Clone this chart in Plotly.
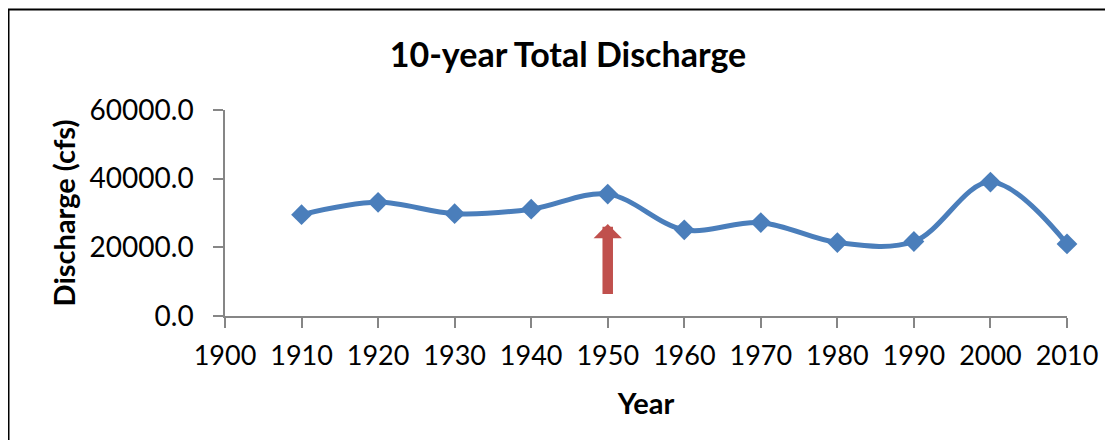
import plotly.graph_objects as go

years = [1910, 1920, 1930, 1940, 1950, 1960, 1970, 1980, 1990, 2000, 2010]
discharge = [29500, 33100, 29800, 31100, 35500, 25100, 27200, 21400, 21700, 39000, 21000]
x_ticks = list(range(1900, 2011, 10))
y_ticks = [0, 20000, 40000, 60000]
y_tick_labels = ["0.0", "20000.0", "40000.0", "60000.0"]
arrow_year = 1950
arrow_from, arrow_to = 6000, 26800

# page body has an 8px margin; figure coordinates are offset by it
OFF = 8
W, H = 1113 - OFF, 448 - 2 * OFF
ML, MT = 225 - OFF, 110 - OFF
MR = W - (1067 - OFF)
MB = H - (316 - OFF)
pw, ph = W - ML - MR, H - MT - MB

FONT = "Lato, Carlito, Calibri, sans-serif"
BLUE = "#4A7EBB"
AXIS = "#868686"

fig = go.Figure()
fig.add_trace(go.Scatter(
    x=years, y=discharge, mode="lines+markers",
    line=dict(color=BLUE, width=5, shape="spline", smoothing=1.0),
    marker=dict(symbol="diamond", size=16, color=BLUE),
    showlegend=False, cliponaxis=False,
))

fig.add_annotation(
    x=arrow_year, y=arrow_to, ax=arrow_year, ay=arrow_from,
    xref="x", yref="y", axref="x", ayref="y",
    text="", showarrow=True, arrowhead=1, arrowsize=0.45,
    arrowwidth=10.5, arrowcolor="#C0504D", standoff=0,
)

def px2paper_x(px):
    return (px - OFF - ML) / pw

def px2paper_y(py):
    return (H - MB - (py - OFF)) / ph

fx0, fx1 = px2paper_x(8.5), px2paper_x(1112)
fy0, fy1 = px2paper_y(447), px2paper_y(9.5)
fig.add_shape(type="path", xref="paper", yref="paper",
              path=f"M {fx0},{fy0} L {fx0},{fy1} L {fx1},{fy1}",
              line=dict(color="black", width=2))

fig.update_layout(
    width=W, height=H,
    margin=dict(l=ML, r=MR, t=MT, b=MB),
    paper_bgcolor="white", plot_bgcolor="white",
    font=dict(family=FONT, color="black"),
    title=dict(text="<b>10-year Total Discharge</b>", xref="container", yref="container",
               x=(568 - OFF) / W, y=1 - (55 - OFF) / H, xanchor="center", yanchor="middle",
               font=dict(size=34, family=FONT, color="black")),
)
fig.update_xaxes(
    range=[1900, 2010], tickmode="array", tickvals=x_ticks,
    showgrid=False, zeroline=False, showline=True, linecolor=AXIS, linewidth=1.5,
    ticks="outside", ticklen=10, tickwidth=1.5, tickcolor=AXIS,
    tickfont=dict(size=27, family=FONT, color="black"),
    ticklabelstandoff=5,
    title=dict(text="<b>Year</b>", font=dict(size=29, family=FONT, color="black"), standoff=24),
)
fig.update_yaxes(
    range=[0, 60000], tickmode="array", tickvals=y_ticks, ticktext=y_tick_labels,
    showgrid=False, zeroline=False, showline=True, linecolor=AXIS, linewidth=1.5,
    ticks="outside", ticklen=10, tickwidth=1.5, tickcolor=AXIS,
    tickfont=dict(size=28, family=FONT, color="black"),
    ticklabelstandoff=14,
    title=dict(text="<b>Discharge (cfs)</b>", font=dict(size=29, family=FONT, color="black"), standoff=5),
)

fig.write_html("out.html")
